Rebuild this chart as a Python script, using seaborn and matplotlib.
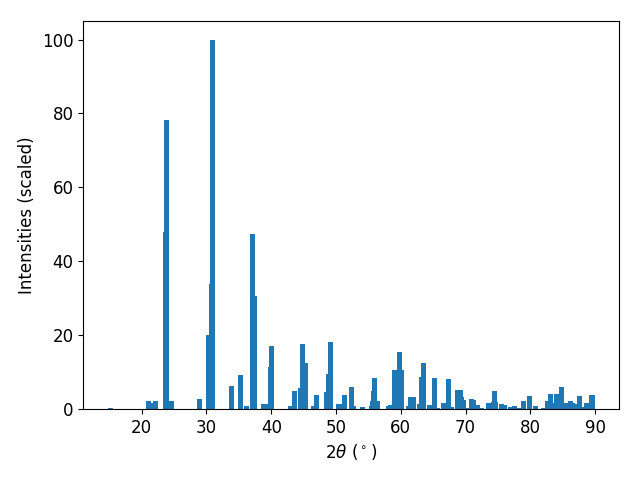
import numpy as np
import matplotlib
matplotlib.use("Agg")
import matplotlib.pyplot as plt
import seaborn as sns

# Picos del patron de difraccion (2theta en grados, intensidad escalada)
two_theta = [15.13, 21.02, 21.55, 22.09, 23.72, 23.87, 24.55, 28.96, 30.29, 30.75,
             30.90, 33.83, 35.20, 36.15, 37.08, 37.36, 38.78, 39.06, 39.86, 40.00,
             42.95, 43.57, 44.50, 44.88, 45.25, 46.50, 46.97, 48.53, 48.84, 49.15,
             50.40, 50.55, 51.30, 52.40, 52.75, 54.10, 55.43, 55.58, 55.80, 55.93,
             56.40, 58.18, 58.40, 59.00, 59.80, 60.09, 61.20, 61.51, 61.95, 62.90,
             63.20, 63.50, 64.44, 65.20, 65.60, 66.60, 67.36, 67.82, 68.78, 69.21,
             69.37, 69.68, 70.10, 70.93, 71.22, 71.84, 72.40, 73.55, 74.34, 74.50,
             74.62, 75.56, 76.00, 76.90, 77.50, 78.20, 78.97, 79.80, 80.80, 82.10,
             82.69, 83.10, 83.43, 84.10, 84.80, 85.60, 86.20, 86.52, 87.10, 87.60,
             88.35, 88.68, 89.50]
intensity = [0.3, 2.2, 1.7, 2.2, 48.0, 78.3, 2.2, 2.7, 20.0, 33.9,
             100.0, 6.2, 9.2, 0.8, 47.4, 30.6, 1.4, 1.4, 11.4, 17.1,
             0.8, 4.9, 5.7, 17.6, 12.5, 0.8, 3.8, 4.6, 9.5, 18.2,
             1.4, 1.4, 3.8, 6.0, 0.8, 0.5, 0.8, 2.2, 4.9, 8.4,
             2.2, 0.8, 1.1, 10.6, 15.4, 10.6, 0.8, 3.3, 3.3, 1.4,
             8.7, 12.5, 1.1, 8.4, 0.3, 1.6, 8.1, 0.5, 5.1, 5.1,
             3.3, 2.4, 0.3, 2.7, 2.4, 1.1, 0.3, 1.6, 1.9, 4.9,
             1.9, 1.4, 1.1, 0.5, 0.8, 0.3, 2.2, 3.5, 0.8, 0.3,
             2.2, 4.1, 1.6, 4.1, 6.0, 1.6, 2.2, 1.6, 1.4, 3.5,
             0.5, 1.6, 3.8]

sns.set_style("ticks", {"axes.edgecolor": "black", "text.color": "black",
                        "axes.labelcolor": "black", "xtick.color": "black",
                        "ytick.color": "black"})
plt.rcParams['font.family'] = ['DejaVu Sans']

color = sns.color_palette("tab10")[0]

fig, ax = plt.subplots(figsize=(6.4, 4.8), dpi=100)
ax.bar(two_theta, intensity, width=0.8, color=color, linewidth=0)
ax.set_xlabel(r"$2\theta$ ($^\circ$)", fontsize=12)
ax.set_ylabel("Intensities (scaled)", fontsize=12)
ax.tick_params(labelsize=12)
fig.subplots_adjust(left=0.13, right=0.967, top=0.956, bottom=0.148)
plt.savefig("out.png")
